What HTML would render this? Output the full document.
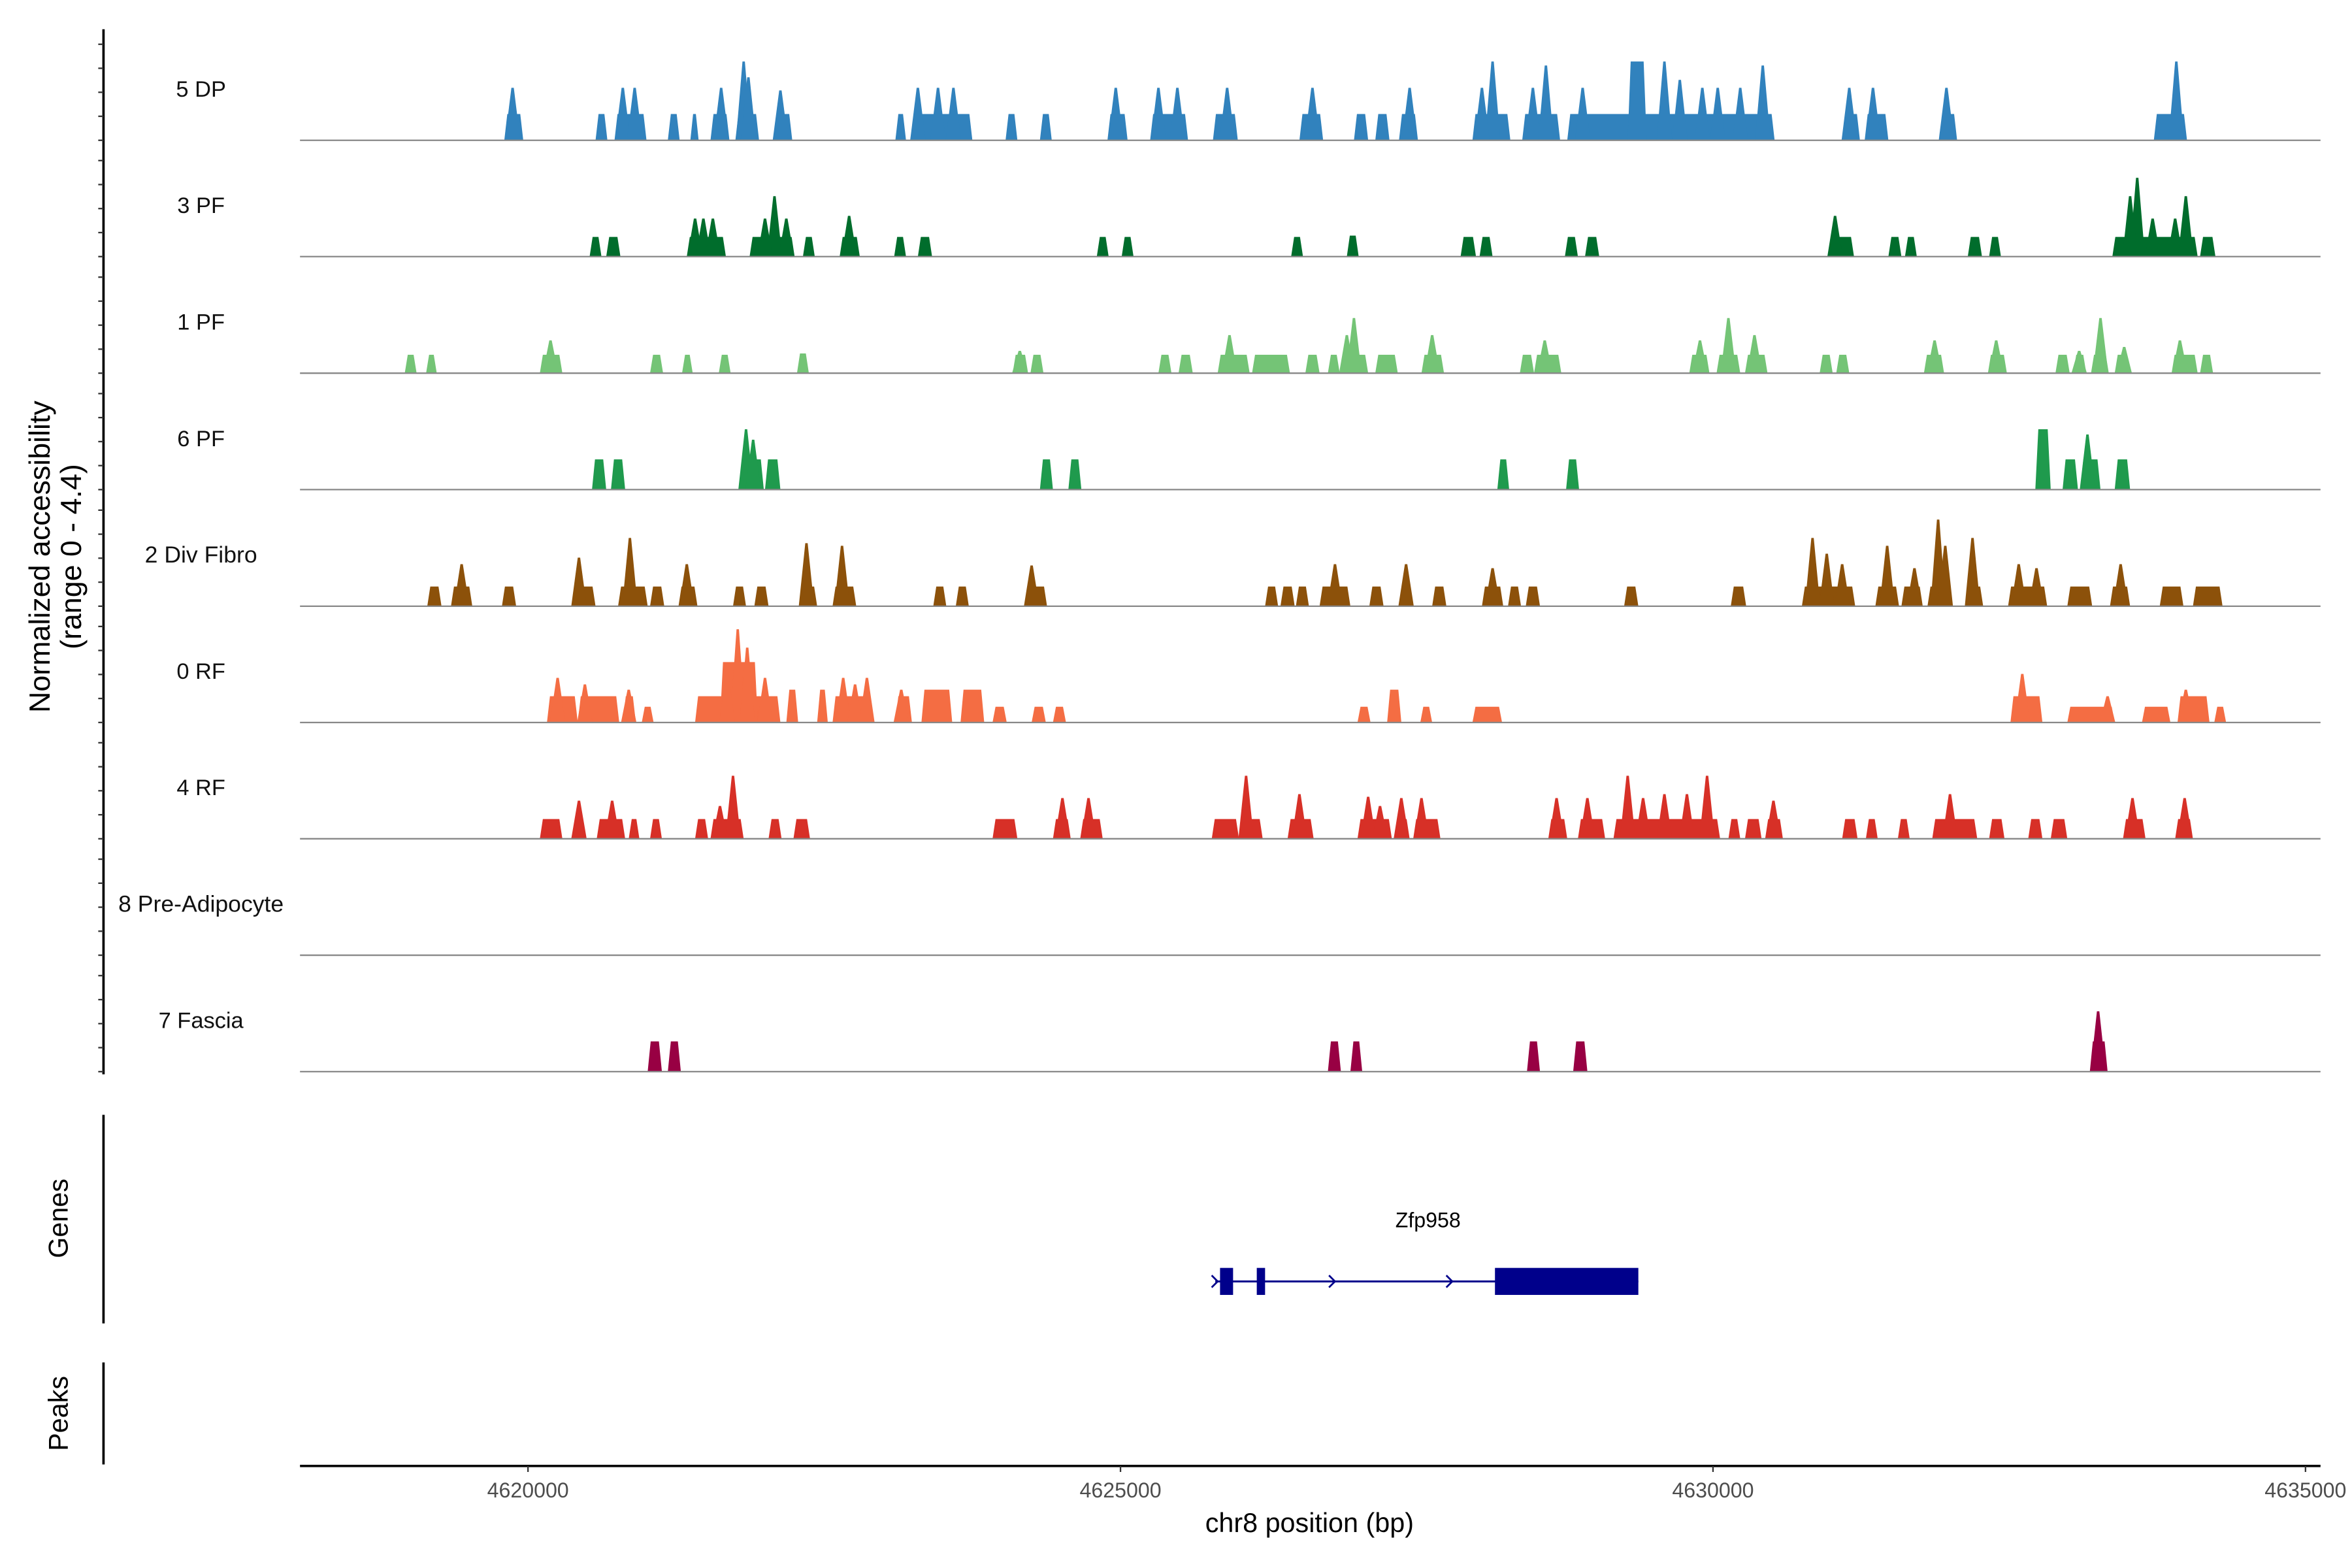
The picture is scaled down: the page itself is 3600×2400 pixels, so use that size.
<!DOCTYPE html>
<html><head><meta charset="utf-8"><style>
html,body{margin:0;padding:0;background:#fff;}
svg{display:block;font-family:"Liberation Sans",Arial,sans-serif;}
</style></head><body>
<svg id="chart" width="3600" height="2400" viewBox="0 0 1568 1045" preserveAspectRatio="none" xmlns="http://www.w3.org/2000/svg">
<rect x="0" y="0" width="1568" height="1045" fill="#fff"/>
<g id="tracks"></g>
<g id="axes"></g>
</svg>
<script>
// ---- data (kb positions, normalized accessibility values) ----
const trackNames = ["5 DP","3 PF","1 PF","6 PF","2 Div Fibro","0 RF","4 RF","8 Pre-Adipocyte","7 Fascia"];
const trackColors = ["#3182bd","#006d2c","#74c476","#1f9a4d","#8c510a","#f46d43","#d73027","#762a83","#980043"];
const xTicks = [4620000,4625000,4630000,4635000];
const yMax = 4.4;
// entries: [start_kb, end_kb, value] or [center_kb, value] (spike)
const peaks5DP = [[4619.80,4619.96,1.0],[4619.87,2.0],[4620.57,4620.67,1.0],[4620.73,4621.00,1.0],[4620.80,2.0],[4620.90,2.0],[4621.18,4621.28,1.0],[4621.37,4621.44,1.0],[4621.54,4621.70,1.0],[4621.63,2.0],[4621.75,4621.95,1.0],[4621.82,3.0],[4621.86,2.4],[4622.08,4622.23,1.0],[4622.13,1.9],[4623.10,4623.19,1.0],[4623.23,4623.75,1.0],[4623.29,2.0],[4623.46,2.0],[4623.59,2.0],[4624.03,4624.13,1.0],[4624.32,4624.42,1.0],[4624.89,4625.06,1.0],[4624.96,2.0],[4625.25,4625.57,1.0],[4625.32,2.0],[4625.48,2.0],[4625.78,4625.99,1.0],[4625.90,2.0],[4626.51,4626.71,1.0],[4626.62,2.0],[4626.97,4627.09,1.0],[4627.15,4627.27,1.0],[4627.35,4627.51,1.0],[4627.44,2.0],[4627.97,4628.29,1.0],[4628.14,3.0],[4628.05,2.0],[4628.39,4628.71,1.0],[4628.48,2.0],[4628.59,2.85],[4628.77,4630.52,1.0],[4628.90,2.0],[4629.28,4629.44,3.0],[4629.59,3.0],[4629.72,2.3],[4629.91,2.0],[4630.04,2.0],[4630.23,2.0],[4630.42,2.85],[4631.09,4631.24,1.0],[4631.15,2.0],[4631.28,4631.48,1.0],[4631.35,2.0],[4631.91,4632.06,1.0],[4631.97,2.0],[4633.72,4634.00,1.0],[4633.91,3.0]];
const peaks3PF = [[4620.52,4620.62,0.75],[4620.66,4620.78,0.75],[4621.34,4621.67,0.75],[4621.41,1.45],[4621.48,1.45],[4621.56,1.45],[4621.87,4622.25,0.75],[4622.08,2.3],[4622.00,1.45],[4622.18,1.45],[4622.32,4622.42,0.75],[4622.63,4622.80,0.75],[4622.71,1.55],[4623.09,4623.19,0.75],[4623.29,4623.41,0.75],[4624.80,4624.90,0.75],[4625.01,4625.11,0.75],[4626.44,4626.54,0.75],[4626.91,4627.01,0.8],[4627.87,4628.00,0.75],[4628.03,4628.14,0.75],[4628.75,4628.86,0.75],[4628.92,4629.04,0.75],[4630.97,4631.19,0.75],[4631.03,1.55],[4631.48,4631.59,0.75],[4631.62,4631.72,0.75],[4632.15,4632.27,0.75],[4632.33,4632.43,0.75],[4633.37,4634.09,0.75],[4633.58,3.0],[4633.52,2.3],[4633.71,1.45],[4633.90,1.45],[4633.99,2.3],[4634.11,4634.24,0.75]];
const peaks1PF = [[4618.96,4619.06,0.7],[4619.14,4619.23,0.7],[4620.10,4620.29,0.7],[4620.19,1.25],[4621.03,4621.14,0.7],[4621.30,4621.39,0.7],[4621.61,4621.71,0.7],[4622.27,4622.37,0.75],[4624.09,4624.22,0.7],[4624.15,0.85],[4624.24,4624.35,0.7],[4625.32,4625.43,0.7],[4625.49,4625.61,0.7],[4625.82,4626.09,0.7],[4625.92,1.45],[4626.11,4626.43,0.7],[4626.56,4626.68,0.7],[4626.75,4626.85,0.7],[4626.87,4627.09,0.7],[4626.97,2.1],[4626.91,1.45],[4627.15,4627.34,0.7],[4627.54,4627.73,0.7],[4627.63,1.45],[4628.37,4628.49,0.7],[4628.49,4628.72,0.7],[4628.58,1.25],[4629.80,4629.97,0.7],[4629.89,1.25],[4630.03,4630.23,0.7],[4630.13,2.1],[4630.27,4630.46,0.7],[4630.35,1.45],[4630.90,4631.01,0.7],[4631.04,4631.15,0.7],[4631.78,4631.95,0.7],[4631.87,1.25],[4632.32,4632.48,0.7],[4632.39,1.25],[4632.89,4633.01,0.7],[4633.04,4633.15,0.7],[4633.09,0.85],[4633.19,4633.34,0.7],[4633.27,2.1],[4633.39,4633.52,0.7],[4633.47,1.0],[4633.87,4634.09,0.7],[4633.94,1.25],[4634.11,4634.22,0.7]];
const peaks6PF = [[4620.54,4620.66,1.15],[4620.70,4620.82,1.15],[4621.80,4621.99,1.15],[4621.84,2.3],[4621.90,1.9],[4622.00,4622.13,1.15],[4624.32,4624.43,1.15],[4624.56,4624.67,1.15],[4628.18,4628.28,1.15],[4628.76,4628.87,1.15],[4632.72,4632.85,2.3],[4632.95,4633.08,1.15],[4633.10,4633.27,1.15],[4633.16,2.1],[4633.39,4633.52,1.15]];
const peaks2DF = [[4619.15,4619.27,0.75],[4619.35,4619.53,0.75],[4619.44,1.6],[4619.78,4619.90,0.75],[4620.37,4620.57,0.75],[4620.43,1.85],[4620.76,4621.01,0.75],[4620.86,2.6],[4621.03,4621.15,0.75],[4621.27,4621.43,0.75],[4621.34,1.6],[4621.73,4621.84,0.75],[4621.91,4622.03,0.75],[4622.29,4622.44,0.75],[4622.35,2.4],[4622.57,4622.77,0.75],[4622.65,2.3],[4623.42,4623.53,0.75],[4623.61,4623.72,0.75],[4624.19,4624.38,0.75],[4624.25,1.55],[4626.22,4626.33,0.75],[4626.35,4626.47,0.75],[4626.48,4626.59,0.75],[4626.68,4626.94,0.75],[4626.81,1.6],[4627.10,4627.22,0.75],[4627.35,4627.47,0.75],[4627.41,1.6],[4627.63,4627.75,0.75],[4628.05,4628.23,0.75],[4628.14,1.45],[4628.27,4628.38,0.75],[4628.42,4628.54,0.75],[4629.25,4629.37,0.75],[4630.15,4630.28,0.75],[4630.75,4631.20,0.75],[4630.84,2.6],[4630.96,2.0],[4631.09,1.6],[4631.37,4631.57,0.75],[4631.47,2.3],[4631.59,4631.77,0.75],[4631.70,1.45],[4631.81,4632.00,0.75],[4631.90,3.3],[4631.96,2.3],[4632.13,4632.28,0.75],[4632.19,2.6],[4632.49,4632.82,0.75],[4632.58,1.6],[4632.73,1.45],[4632.99,4633.20,0.75],[4633.35,4633.52,0.75],[4633.44,1.6],[4633.77,4633.97,0.75],[4634.05,4634.30,0.75]];
const peaks0RF = [[4620.16,4620.42,1.0],[4620.25,1.7],[4620.42,4620.77,1.0],[4620.48,1.45],[4620.80,4620.91,1.0],[4620.85,1.25],[4620.96,4621.06,0.6],[4621.41,4622.13,1.0],[4621.62,4621.94,2.3],[4621.77,3.55],[4621.85,2.85],[4621.68,2.0],[4622.00,1.7],[4622.18,4622.28,1.25],[4622.44,4622.53,1.25],[4622.57,4622.91,1.0],[4622.66,1.7],[4622.76,1.45],[4622.86,1.7],[4623.10,4623.24,1.0],[4623.15,1.25],[4623.32,4623.58,1.25],[4623.65,4623.85,1.25],[4623.92,4624.04,0.6],[4624.25,4624.37,0.6],[4624.43,4624.54,0.6],[4627.00,4627.11,0.6],[4627.25,4627.37,1.25],[4627.53,4627.63,0.6],[4627.97,4628.22,0.6],[4632.51,4632.78,1.0],[4632.61,1.85],[4632.99,4633.39,0.6],[4633.33,1.0],[4633.62,4633.86,0.6],[4633.92,4634.19,1.0],[4633.99,1.25],[4634.23,4634.33,0.6]];
const peaks4RF = [[4620.10,4620.29,0.75],[4620.37,4620.49,0.75],[4620.43,1.45],[4620.58,4620.82,0.75],[4620.71,1.45],[4620.85,4620.94,0.75],[4621.03,4621.13,0.75],[4621.41,4621.52,0.75],[4621.54,4621.82,0.75],[4621.62,1.25],[4621.73,2.4],[4622.03,4622.14,0.75],[4622.24,4622.38,0.75],[4623.92,4624.13,0.75],[4624.43,4624.58,0.75],[4624.51,1.55],[4624.66,4624.85,0.75],[4624.73,1.55],[4625.77,4626.00,0.75],[4626.00,4626.20,0.75],[4626.06,2.4],[4626.41,4626.63,0.75],[4626.51,1.7],[4627.00,4627.29,0.75],[4627.09,1.6],[4627.19,1.25],[4627.32,4627.44,0.75],[4627.37,1.55],[4627.47,4627.70,0.75],[4627.54,1.55],[4628.61,4628.77,0.75],[4628.68,1.55],[4628.86,4629.09,0.75],[4628.94,1.55],[4629.16,4630.06,0.75],[4629.28,2.4],[4629.41,1.55],[4629.59,1.7],[4629.78,1.7],[4629.95,2.4],[4630.13,4630.23,0.75],[4630.27,4630.41,0.75],[4630.44,4630.59,0.75],[4630.51,1.45],[4631.09,4631.22,0.75],[4631.29,4631.39,0.75],[4631.56,4631.66,0.75],[4631.85,4632.23,0.75],[4632.00,1.7],[4632.33,4632.46,0.75],[4632.66,4632.78,0.75],[4632.85,4632.99,0.75],[4633.46,4633.65,0.75],[4633.54,1.55],[4633.90,4634.05,0.75],[4633.98,1.55]];
const peaks8PA = [];
const peaks7FA = [[4621.01,4621.13,1.15],[4621.18,4621.29,1.15],[4626.75,4626.86,1.15],[4626.94,4627.04,1.15],[4628.43,4628.54,1.15],[4628.82,4628.94,1.15],[4633.18,4633.33,1.15],[4633.25,2.3]];
const allPeaks = [peaks5DP,peaks3PF,peaks1PF,peaks6PF,peaks2DF,peaks0RF,peaks4RF,peaks8PA,peaks7FA];
// gene model (kb)
const geneName = "Zfp958";
const geneStart = 4625.80, geneEnd = 4629.37;
const geneExons = [[4625.84,4625.95],[4626.15,4626.22],[4628.16,4629.37]];
const geneArrows = [4625.82,4626.81,4627.80];

// ---- scales ----
const X0 = 200, X1 = 1547;
const PX_PER_KB = 79, KB_REF = 4620, PX_REF = 352;
function xs(kb){ return PX_REF + (kb - KB_REF) * PX_PER_KB; }
const baselines = [93.5,171,248.7,326.3,404,481.5,559,636.6,714.2];
const TRACK_H = 77;
function yh(v){ return v / yMax * TRACK_H; }

const NS = "http://www.w3.org/2000/svg";
function mk(tag, attrs, parent){ const e = document.createElementNS(NS, tag); for (const k in attrs) e.setAttribute(k, attrs[k]); parent.appendChild(e); return e; }
const tg = document.getElementById('tracks');
const ax = document.getElementById('axes');

allPeaks.forEach((list, ti) => {
  const b = baselines[ti];
  const g = mk('g', {}, tg);
  
  
  list.forEach(p => {
    let pts;
    if (p.length === 2) {
      const xc = xs(p[0]), h = yh(p[1]);
      const hw = 0.065 * PX_PER_KB;
      pts = `${xc-hw},${b} ${xc-0.8},${b-h} ${xc+0.8},${b-h} ${xc+hw},${b}`;
    } else {
      const xa = xs(p[0]), xb = xs(p[1]), h = yh(p[2]);
      const sl = Math.min(2, (xb - xa) / 3);
      pts = `${xa},${b} ${xa+sl},${b-h} ${xb-sl},${b-h} ${xb},${b}`;
    }
    const poly = mk('polygon', {points: pts, fill: trackColors[ti]}, g);
    
    
  });
  const bl = mk('line', {x1: X0, x2: X1, y1: b, y2: b, stroke: '#888', 'stroke-width': 1}, g);
  
  
  const lab = mk('text', {x: 134, y: b - 29, 'font-size': trackNames[ti].length > 8 ? 15.5 : 15, 'text-anchor': 'middle', fill: '#111'}, g);
  lab.textContent = trackNames[ti];
  
  
});

// left y axis with ticks
const yl = mk('line', {x1: 69, x2: 69, y1: 19.5, y2: 716, stroke: '#000', 'stroke-width': 1.6}, ax);


baselines.forEach(b => {
  for (let k = 0; k < 5; k++) {
    const ty = b - k * 16;
    const t = mk('line', {x1: 65.5, x2: 69, y1: ty, y2: ty, stroke: '#333', 'stroke-width': 1}, ax);
    
    
  }
});
const yt = mk('text', {transform: 'translate(33,371) rotate(-90)', 'font-size': 19.5, 'text-anchor': 'middle', fill: '#000'}, ax);
yt.textContent = 'Normalized accessibility';


const yt2 = mk('text', {transform: 'translate(54,371) rotate(-90)', 'font-size': 19.5, 'text-anchor': 'middle', fill: '#000'}, ax);
yt2.textContent = '(range 0 - 4.4)';



// genes panel
const gl = mk('line', {x1: 69, x2: 69, y1: 743, y2: 882, stroke: '#000', 'stroke-width': 1.6}, ax);


const gt = mk('text', {transform: 'translate(45,812) rotate(-90)', 'font-size': 18, 'text-anchor': 'middle', fill: '#000'}, ax);
gt.textContent = 'Genes';


const gg = mk('g', {}, ax);


mk('line', {x1: xs(geneStart), x2: xs(geneEnd), y1: 854, y2: 854, stroke: '#00008b', 'stroke-width': 1.3}, gg);
geneExons.forEach(ex => {
  const r = mk('rect', {x: xs(ex[0]), y: 845, width: xs(ex[1]) - xs(ex[0]), height: 18, fill: '#00008b'}, gg);
  
  
});
geneArrows.forEach(a => {
  const x = xs(a);
  const p = mk('polyline', {points: `${x-4},850 ${x},854 ${x-4},858`, fill: 'none', stroke: '#00008b', 'stroke-width': 1.2}, gg);
  
  
});
const gn = mk('text', {x: 952, y: 818, 'font-size': 14, 'text-anchor': 'middle', fill: '#000'}, gg);
gn.textContent = geneName;



// peaks panel
const pl = mk('line', {x1: 69, x2: 69, y1: 908, y2: 976, stroke: '#000', 'stroke-width': 1.6}, ax);


const pt = mk('text', {transform: 'translate(45,942) rotate(-90)', 'font-size': 18, 'text-anchor': 'middle', fill: '#000'}, ax);
pt.textContent = 'Peaks';



// x axis
const xl = mk('line', {x1: X0, x2: X1, y1: 977, y2: 977, stroke: '#000', 'stroke-width': 1.6}, ax);


xTicks.forEach(t => {
  const x = xs(t / 1000);
  const tk = mk('line', {x1: x, x2: x, y1: 977, y2: 981, stroke: '#333', 'stroke-width': 1}, ax);
  
  
  const tl = mk('text', {x: x, y: 998, 'font-size': 14, 'text-anchor': 'middle', fill: '#4d4d4d'}, ax);
  tl.textContent = String(t);
  
  
});
const xt = mk('text', {x: 873, y: 1021, 'font-size': 18, 'text-anchor': 'middle', fill: '#000'}, ax);
xt.textContent = 'chr8 position (bp)';


</script>
</body></html>
